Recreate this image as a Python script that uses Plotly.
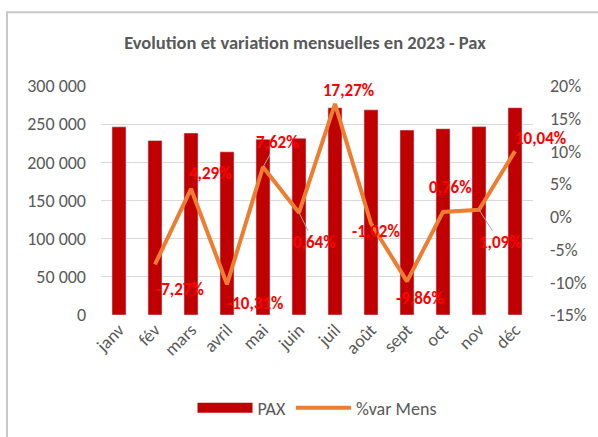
import plotly.graph_objects as go

months = ["janv", "fév", "mars", "avril", "mai", "juin", "juil", "août", "sept", "oct", "nov", "déc"]
pax = [246500, 228600, 238400, 213800, 230100, 231600, 271600, 268800, 242300, 244100, 246800, 271600]
var_pct = [None, -7.27, 4.29, -10.31, 7.62, 0.64, 17.27, -1.02, -9.86, 0.76, 1.09, 10.04]
var_labels = ["", "-7,27%", "4,29%", "-10,31%", "7,62%", "0,64%", "17,27%", "-1,02%", "-9,86%", "0,76%", "1,09%", "10,04%"]
left_ticks = [0, 50000, 100000, 150000, 200000, 250000, 300000]
left_tick_text = ["0", "50 000", "100 000", "150 000", "200 000", "250 000", "300 000"]
right_ticks = [-15, -10, -5, 0, 5, 10, 15, 20]
right_tick_text = ["-15%", "-10%", "-5%", "0%", "5%", "10%", "15%", "20%"]

# label offsets (pixels, text centre relative to point) and whether a leader line is drawn
label_dx = [0, 25, 19, 28, 14, 15, 13, 5, 13, 7, 21, 25]
label_dy = [0, 25, -15, 19, -25, 30, -13, 8, 17, -24, 33, -13]
leader = [False, False, False, False, True, True, False, False, False, False, True, False]

FONT = "Calibri, Carlito, Lato, sans-serif"
GREY = "#595959"
FS = 18
BAR_COLOR = "#C00000"

fig = go.Figure()
fig.add_trace(go.Bar(x=months, y=pax, name="PAX", marker_color=BAR_COLOR,
                     width=0.39, yaxis="y", showlegend=False, legendgroup="pax"))
# legend proxy so the PAX swatch is a wide rectangle like the reference
fig.add_trace(go.Scatter(x=[None], y=[None], name="PAX", mode="lines",
                         line=dict(color=BAR_COLOR, width=11), yaxis="y",
                         legendgroup="pax", hoverinfo="skip"))
fig.add_trace(go.Scatter(x=months, y=var_pct, name="%var Mens", mode="lines",
                         line=dict(color="#ED7D31", width=4), yaxis="y2"))

annotations = []
for m, v, t, dx, dy, ld in zip(months, var_pct, var_labels, label_dx, label_dy, leader):
    if v is None:
        continue
    annotations.append(dict(
        x=m, y=v, xref="x", yref="y2", text=t, showarrow=True,
        ax=dx, ay=dy, arrowhead=0, arrowwidth=1, standoff=0,
        arrowcolor="#A6A6A6" if ld else "rgba(0,0,0,0)",
        font=dict(family=FONT, size=17, color="#FF0000", weight="bold"),
    ))

fig.update_layout(
    width=598, height=437,
    margin=dict(l=101, r=65, t=86, b=121),
    paper_bgcolor="white", plot_bgcolor="white",
    font=dict(family=FONT, size=FS, color=GREY),
    title=dict(text="<b>Evolution et variation mensuelles en 2023 - Pax</b>",
               x=305 / 598, xanchor="center", y=1 - 43 / 437, yanchor="middle",
               font=dict(family=FONT, size=18.5, color=GREY)),
    bargap=0.61,
    xaxis=dict(range=[-0.5, 11.5], autorange=False, tickangle=-45, showgrid=False,
               showline=False, ticks="", tickfont=dict(size=FS, color=GREY)),
    yaxis=dict(range=[0, 300000], tickvals=left_ticks, ticktext=left_tick_text,
               showgrid=True, gridcolor="#D9D9D9", gridwidth=1, zeroline=False,
               showline=False, ticks="", ticklabelstandoff=14,
               tickfont=dict(size=FS, color=GREY)),
    yaxis2=dict(range=[-15, 20], tickvals=right_ticks, ticktext=right_tick_text,
                overlaying="y", side="right", showgrid=False, zeroline=False,
                showline=False, ticks="", ticklabelstandoff=16,
                tickfont=dict(size=FS, color=GREY)),
    legend=dict(orientation="h", x=0.5, xanchor="center", y=(316 - 408) / 230,
                yanchor="middle", font=dict(size=FS, color=GREY),
                traceorder="normal", itemwidth=55),
    annotations=annotations,
    showlegend=True,
)
fig.add_shape(type="rect", xref="paper", yref="paper",
              x0=(7 - 101) / 432, x1=(620 - 101) / 432,
              y0=(316 - 460) / 230, y1=(316 - 12) / 230,
              line=dict(color="#C8C8C8", width=2), layer="below")

fig.write_html("out.html", config={"displayModeBar": False},
               post_script="document.body.style.margin='0px';")
